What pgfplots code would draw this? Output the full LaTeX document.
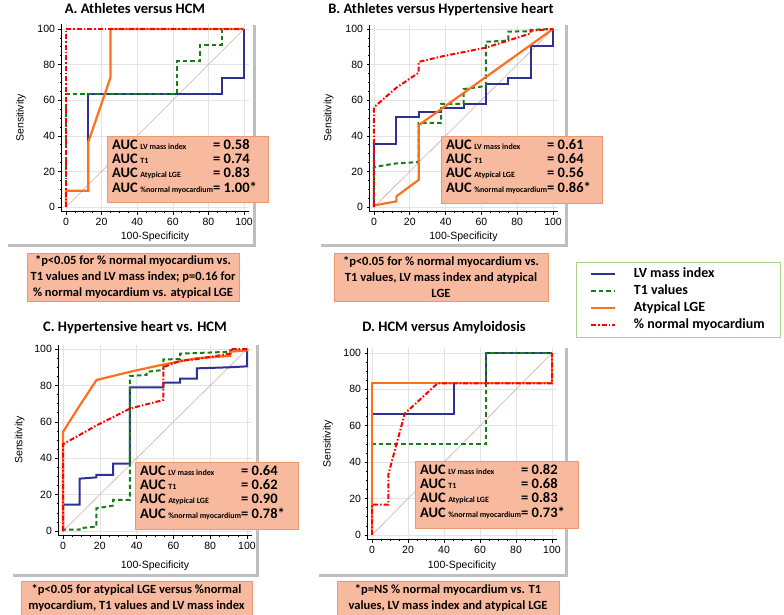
\documentclass[border=0pt]{standalone}
\usepackage{fontspec}
\setmainfont{Carlito}
\newfontfamily\arial{Liberation Sans}
\usepackage{pgfplots}
\pgfplotsset{compat=1.18}
\usetikzlibrary{shadows}

\definecolor{cblue}{RGB}{46,49,146}
\definecolor{cgreen}{RGB}{25,125,25}
\definecolor{corange}{RGB}{255,112,30}
\definecolor{cred}{RGB}{255,0,0}
\definecolor{cdiag}{RGB}{215,170,170}
\definecolor{boxfill}{RGB}{248,186,158}
\definecolor{boxdraw}{RGB}{238,150,110}
\definecolor{legdraw}{RGB}{169,209,142}

\pgfplotsset{
  roc/.style={
    scale only axis,
    xmin=-2.5, xmax=102.5, ymin=-2.5, ymax=102.5,
    axis x line=bottom, axis y line=left,
    axis line style={-, black, line width=0.8pt},
    xtick={0,20,...,100}, ytick={0,20,...,100},
    minor tick num=3,
    tick align=outside,
    major tick length=3pt, minor tick length=1.8pt,
    tick style={black, line width=0.6pt},
    grid=major, major grid style={gray!22, line width=0.6pt},
    ticklabel style={font=\arial\fontsize{10.5}{12}\selectfont},
    /pgf/number format/assume math mode=true,
    xlabel={100-Specificity}, ylabel={Sensitivity},
    label style={font=\arial\fontsize{10.5}{12}\selectfont},
  },
  styleLV/.style={color=cblue, solid, line width=2pt},
  styleTone/.style={color=cgreen, line width=2pt, dash pattern=on 4.5pt off 3pt},
  styleLGE/.style={color=corange, solid, line width=2.2pt},
  styleNM/.style={color=cred, line width=2pt, dash pattern=on 5pt off 2pt on 1.5pt off 2pt},
  diag/.style={color=cdiag, line width=0.6pt, forget plot},
}

\tikzset{
  panel/.style={fill=white, drop shadow={shadow xshift=3pt, shadow yshift=-3pt, opacity=0.25, fill=black}},
  aucbox/.style={draw=boxdraw, fill=boxfill, line width=0.8pt},
  fn/.style={draw=boxdraw, fill=boxfill, line width=0.8pt, inner sep=0pt, align=center,
    font=\bfseries\fontsize{12.5}{16}\selectfont},
  ttl/.style={anchor=base, font=\bfseries\fontsize{14.5}{17}\selectfont},
}

\newcommand\sub[1]{{\fontsize{8}{8}\selectfont #1}}
\newcommand\auc[4]{{\bfseries\fontsize{14.5}{14.3}\selectfont
  \begin{tabular}{@{}l@{}l@{}}
  AUC\,\sub{LV mass index} & = #1\\
  AUC\,\sub{T1} & = #2\\
  AUC\,\sub{Atypical LGE} & = #3\\
  AUC\,\sub{\%normal myocardium} & = #4
  \end{tabular}}}

\begin{document}
\begin{tikzpicture}
\useasboundingbox (0pt,0pt) rectangle (784pt,-615pt);

% panel backgrounds
\path[panel] (5pt,-22pt) rectangle (253pt,-244pt);
\path[panel] (318pt,-22pt) rectangle (565pt,-244pt);
\path[panel] (10pt,-342pt) rectangle (256pt,-574pt);
\path[panel] (316pt,-345pt) rectangle (565pt,-574pt);

% A
\begin{axis}[roc, at={(61.5pt,-211.5pt)}, anchor=south west, width=187pt, height=187pt,
  xlabel style={at={(axis description cs:0.5,-0.136)}, anchor=center},
  ylabel style={at={(axis description cs:-0.217,0.5)}, anchor=center}]
\addplot[diag] coordinates {(0,0) (100,100)};
\addplot[styleLV] coordinates {(0,0) (0,9.1) (12.5,9.1) (12.5,63.6) (87.5,63.6) (87.5,72.7) (100,72.7) (100,100)};
\addplot[styleTone] coordinates {(0,0) (0,63.6) (62.5,63.6) (62.5,81.8) (75,81.8) (75,90.9) (87.5,90.9) (87.5,100) (100,100)};
\addplot[styleLGE] coordinates {(0,0) (0,9.1) (12.5,9.1) (12.5,36.4) (25,72.7) (25,100) (100,100)};
\addplot[styleNM] coordinates {(0,0) (0,100) (100,100)};
\end{axis}

% B
\begin{axis}[roc, at={(369.5pt,-211.5pt)}, anchor=south west, width=188pt, height=187pt,
  xlabel style={at={(axis description cs:0.5,-0.136)}, anchor=center},
  ylabel style={at={(axis description cs:-0.217,0.5)}, anchor=center},
  legend style={at={(1.0987,-0.2702)}, anchor=north west, draw=legdraw,
    fill=white, font=\bfseries\fontsize{14}{16}\selectfont, inner xsep=14pt, inner ysep=4pt,
    row sep=1pt, column sep=16pt,
    nodes={inner sep=1.5pt, text height=10pt, text depth=3pt}},
  legend cell align=left,
  legend image code/.code={\draw[#1] (0pt,0pt) -- (24pt,0pt);}]
\addplot[diag] coordinates {(0,0) (100,100)};
\addplot[styleLV] coordinates {(0,0) (0,35.4) (12.5,35.4) (12.5,50.7) (25,50.7) (25,53.5) (37.5,53.5) (37.5,55.5) (50,55.5) (50,57.8) (62.5,57.8) (62.5,69.1) (75,69.1) (75,72.3) (87.5,72.3) (87.5,90.2) (100,90.2) (100,100)};
\addlegendentry{LV mass index}
\addplot[styleTone] coordinates {(0,0) (0,22.5) (12.5,24.5) (25,25.3) (25,47.2) (37.5,47.2) (37.5,58) (50,58) (50,66.2) (62.5,68) (62.5,92.8) (75,93.5) (75,98.5) (87.5,98.7) (87.5,99.5) (100,100)};
\addlegendentry{T1 values}
\addplot[styleLGE] coordinates {(0,0) (0,0.9) (12.5,3.2) (12.5,6) (25,15.3) (25,46) (100,100)};
\addlegendentry{Atypical LGE}
\addplot[styleNM] coordinates {(0,0) (0,56) (12.5,67) (25,75.5) (25,81.5) (37.5,84.5) (50,87) (62.5,89.5) (75,93.5) (87.5,97.5) (87.5,99) (100,100)};
\addlegendentry{\% normal myocardium}
\end{axis}

% C
\begin{axis}[roc, at={(58.4pt,-535.6pt)}, anchor=south west, width=193.2pt, height=191.1pt,
  xlabel style={at={(axis description cs:0.5,-0.159)}, anchor=center},
  ylabel style={at={(axis description cs:-0.2,0.5)}, anchor=center}]
\addplot[diag] coordinates {(0,0) (100,100)};
\addplot[styleLV] coordinates {(0,0) (0,14.5) (9.1,14.5) (9.1,28.8) (18.2,29.5) (18.2,30.8) (27.3,30.8) (27.3,37) (36.4,37) (36.4,79) (54.5,79) (54.5,81.5) (63.6,81.5) (63.6,83.7) (72.7,83.7) (72.7,89.4) (90.9,90) (100,90.5) (100,100)};
\addplot[styleTone] coordinates {(0,0) (0,0.8) (9.1,0.8) (9.1,1.6) (18.2,2.4) (18.2,12.5) (27.3,14) (27.3,17.2) (36.4,17.2) (36.4,85.2) (45.5,85.8) (45.5,87.5) (54.5,88.5) (54.5,94.3) (63.6,94.5) (63.6,97.5) (90.9,98.5) (90.9,99.3) (100,99.3) (100,100)};
\addplot[styleLGE] coordinates {(0,0) (0,54.5) (9.1,69) (18.2,83) (36.4,87.5) (54.5,91.5) (72.7,95) (90.9,96.2) (90.9,98.5) (100,99.3) (100,100)};
\addplot[styleNM] coordinates {(0,0) (0,47.7) (18.2,58) (36.4,67.3) (54.5,72) (54.5,90) (63.6,93.5) (72.7,94.5) (90.9,97.5) (90.9,100) (100,100)};
\end{axis}

% D
\begin{axis}[roc, at={(367.5pt,-539.5pt)}, anchor=south west, width=189pt, height=191.1pt,
  xlabel style={at={(axis description cs:0.5,-0.139)}, anchor=center},
  ylabel style={at={(axis description cs:-0.21,0.5)}, anchor=center}]
\addplot[diag] coordinates {(0,0) (100,100)};
\addplot[styleLV] coordinates {(0,0) (0,66.7) (45.5,66.7) (45.5,83.3) (63.6,83.3) (63.6,100) (100,100)};
\addplot[styleTone] coordinates {(0,0) (0,50) (63.6,50) (63.6,100) (100,100)};
\addplot[styleLGE] coordinates {(0,0) (0,83.3) (100,83.3) (100,100)};
\addplot[styleNM] coordinates {(0,0) (0,16.7) (9.1,16.7) (9.1,33.3) (18.2,66.7) (36.4,83.3) (100,83.3) (100,100)};
\end{axis}

% titles
\node[ttl] at (135pt,-13.3pt) {A. Athletes versus HCM};
\node[ttl] at (441pt,-13.3pt) {B. Athletes versus Hypertensive heart};
\node[ttl] at (135pt,-331pt) {C. Hypertensive heart vs. HCM};
\node[ttl] at (444pt,-331pt) {D. HCM versus Amyloidosis};

% AUC boxes
\draw[aucbox] (107pt,-136pt) rectangle (268pt,-202pt);
\node[anchor=north west, inner sep=0pt] at (112pt,-139pt) {\auc{0.58}{0.74}{0.83}{1.00*}};
\draw[aucbox] (441pt,-136pt) rectangle (602pt,-203pt);
\node[anchor=north west, inner sep=0pt] at (446pt,-139pt) {\auc{0.61}{0.64}{0.56}{0.86*}};
\draw[aucbox] (135pt,-462pt) rectangle (298pt,-529pt);
\node[anchor=north west, inner sep=0pt] at (140pt,-465pt) {\auc{0.64}{0.62}{0.90}{0.78*}};
\draw[aucbox] (415pt,-461pt) rectangle (578pt,-528pt);
\node[anchor=north west, inner sep=0pt] at (420pt,-464pt) {\auc{0.82}{0.68}{0.83}{0.73*}};

% footnotes
\node[fn, minimum width=212pt, minimum height=48pt] at (133pt,-277pt)
  {*p<0.05 for \% normal myocardium vs.\\ T1 values and LV mass index; p=0.16 for\\ \% normal myocardium vs. atypical LGE};
\node[fn, minimum width=214pt, minimum height=48pt] at (441pt,-277pt)
  {*p<0.05 for \% normal myocardium vs.\\ T1 values, LV mass index and atypical\\ LGE};
\node[fn, minimum width=231pt, minimum height=34pt] at (136.5pt,-598pt)
  {*p<0.05 for atypical LGE versus \%normal\\ myocardium, T1 values and LV mass index};
\node[fn, minimum width=222pt, minimum height=34pt] at (448pt,-598pt)
  {*p=NS \% normal myocardium vs. T1\\ values, LV mass index and atypical LGE};
\end{tikzpicture}
\end{document}
